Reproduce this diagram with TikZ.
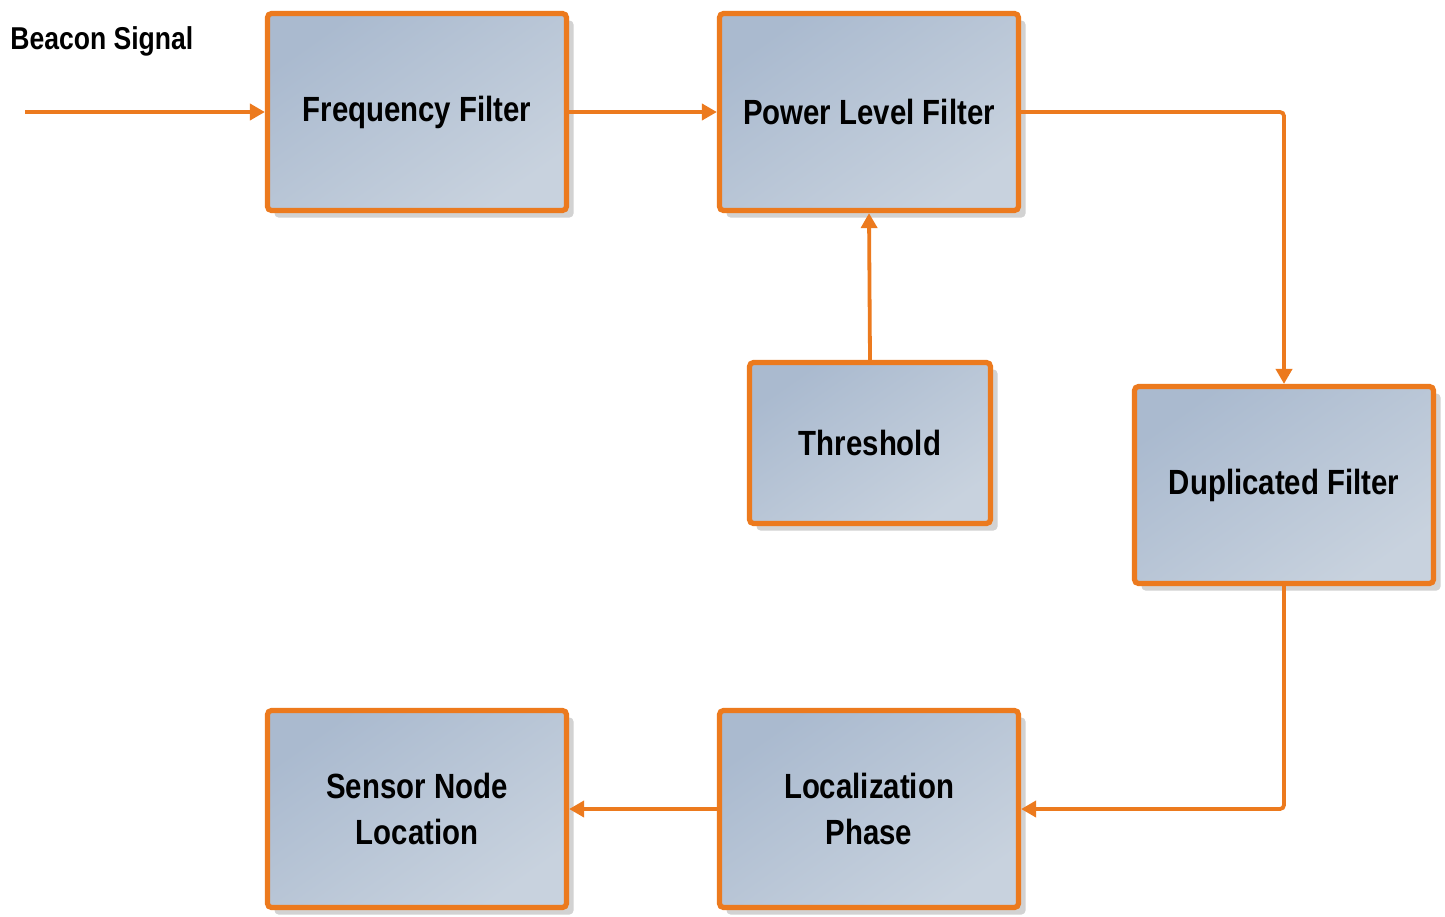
\documentclass[tikz,border=0pt]{standalone}
\usepackage{fontspec}
\setmainfont{Liberation Sans}
\newfontfamily\lblfont[FakeStretch=0.84]{Liberation Sans}
\usetikzlibrary{arrows.meta,shadows,positioning}
\definecolor{flow}{RGB}{236,122,30}
\definecolor{boxtop}{RGB}{170,186,207}
\definecolor{boxbot}{RGB}{200,210,222}
\tikzset{
  block/.style={draw=flow, line width=2.6pt, rounded corners=2pt,
    top color=boxtop, bottom color=boxbot, shading angle=35,
    drop shadow={shadow xshift=3.5pt, shadow yshift=-3.5pt, fill=black!22, opacity=0.8},
    inner sep=0pt, align=center,
    font=\lblfont\bfseries\fontsize{17.5}{23}\selectfont},
  bigbox/.style={block, minimum width=149.5pt, minimum height=98.5pt},
  smallbox/.style={block, minimum width=120.5pt, minimum height=80.5pt},
  flowline/.style={draw=flow, line width=1.9pt, rounded corners=2pt,
    -{Triangle[length=7.5pt,width=8pt]}}
}
\begin{document}
\begin{tikzpicture}[x=0.5pt,y=-0.5pt]
  \fill[white] (0,0) rectangle (1445,916);
  \useasboundingbox (0,0) rectangle (1445,916);

  \node[anchor=west, inner sep=0pt, font=\lblfont\bfseries\fontsize{15.8}{19}\selectfont] (beacon) at (10,41) {Beacon Signal};
  \coordinate (src) at (25,112);

  \node[bigbox] (freq) at (417,112) {Frequency Filter};
  \node[bigbox] (power) at (869,112) {Power Level Filter};
  \node[smallbox] (thr) at (870,443) {Threshold};
  \node[bigbox] (dup) at (1284,485) {Duplicated Filter};
  \node[bigbox] (loc) at (869,809) {Localization\\Phase};
  \node[bigbox] (sensor) at (417,809) {Sensor Node\\Location};

  \draw[flowline] (src) -- (freq.west);
  \draw[flowline] (freq.east) -- (power.west);
  \draw[flowline] (power.east) -| (dup.north);
  \draw[flowline] (thr.north) -- (power.south);
  \draw[flowline] (dup.south) |- (loc.east);
  \draw[flowline] (loc.west) -- (sensor.east);
\end{tikzpicture}
\end{document}
